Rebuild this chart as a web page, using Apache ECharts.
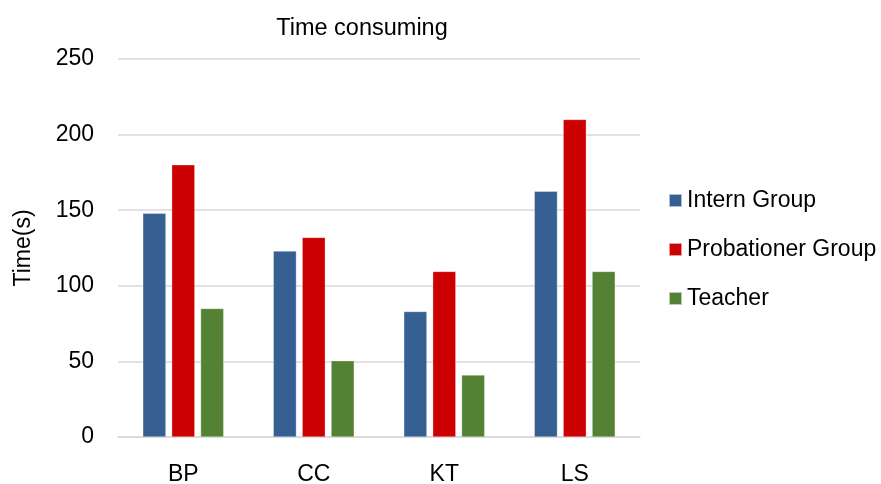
<!DOCTYPE html>
<html>
<head>
<meta charset="utf-8">
<script src="https://cdn.jsdelivr.net/npm/echarts@6/dist/echarts.min.js"></script>
<style>html,body{margin:0;padding:0;background:#fff}#c{width:881px;height:484px}</style>
</head>
<body>
<div id="c"></div>
<script>
const categories = ['BP', 'CC', 'KT', 'LS'];
const internGroup = [148, 123, 83, 162.5];
const probationerGroup = [180, 132, 109.5, 210];
const teacher = [85, 50.5, 41, 109.5];
const yTicks = [0, 50, 100, 150, 200, 250];

const chart = echarts.init(document.getElementById('c'));
const font = 'Arial, "Liberation Sans", sans-serif';
const fs = 23;
const mk = (name, data, color) => ({
  name, type: 'bar', data, barGap: '25%', barCategoryGap: '38%',
  itemStyle: { color, borderColor: 'rgba(255,255,255,0.6)', borderWidth: 0.5 }
});
chart.setOption({
  animation: false,
  title: { text: 'Time consuming', left: 357, top: 12, textAlign: 'center',
    textStyle: { fontFamily: font, fontSize: 23.5, fontWeight: 'normal', color: '#000' } },
  legend: { orient: 'vertical', left: 663, top: 184, itemGap: 26, itemWidth: 13, itemHeight: 13,
    icon: 'rect', textStyle: { fontFamily: font, fontSize: fs, color: '#000' } },
  grid: { left: 118, right: 241, top: 59, bottom: 47, outerBoundsMode: 'none', containLabel: false },
  xAxis: { type: 'category', data: categories,
    axisLine: { lineStyle: { color: '#d9d9d9', width: 1.5 } }, axisTick: { show: false },
    axisLabel: { fontFamily: font, fontSize: fs, color: '#000', margin: 26 } },
  yAxis: { type: 'value', min: yTicks[0], max: yTicks[yTicks.length - 1], interval: 50,
    name: 'Time(s)', nameLocation: 'middle', nameGap: 83, nameRotate: 90,
    nameTextStyle: { fontFamily: font, fontSize: fs, color: '#000' },
    axisLine: { show: false }, axisTick: { show: false },
    splitLine: { lineStyle: { color: '#d9d9d9', width: 1.5 } },
    axisLabel: { fontFamily: font, fontSize: fs, color: '#000', margin: 24 } },
  series: [
    mk('Intern Group', internGroup, '#376092'),
    mk('Probationer Group', probationerGroup, '#CC0000'),
    mk('Teacher', teacher, '#548235')
  ]
});
</script>
</body>
</html>
